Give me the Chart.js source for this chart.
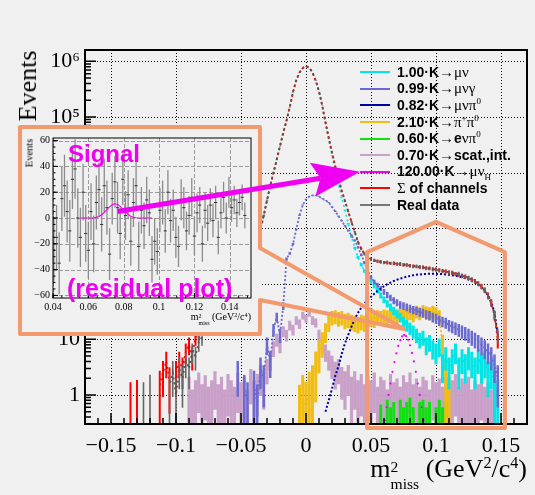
<!DOCTYPE html>
<html lang="en">
<head>
<meta charset="UTF-8">
<title>m2miss fit</title>
<script src="https://cdn.jsdelivr.net/npm/chart.js"></script>
<style>
  html, body { margin: 0; padding: 0; background: #f0f0f0; }
  #wrap { position: relative; width: 535px; height: 495px; overflow: hidden; background: #f0f0f0; font-family: 'Liberation Serif', serif; color: #000; }
  canvas, .abs { position: absolute; }
  #main { left: 0; top: 0; }
  #inset { left: 20px; top: 127px; background: #f0f0f0; }
  #over { left: 0; top: 0; pointer-events: none; }
  .rot { transform: translate(-50%, -50%) rotate(-90deg); white-space: nowrap; }
  #ytitle { left: 28px; top: 86px; font-size: 26px; }
  #iytitle { left: 29px; top: 153px; font-size: 10.5px; }
  #xtitle { right: 8px; top: 454px; font-size: 26px; line-height: 30px; white-space: nowrap; }
  #ixtitle { right: 284px; top: 311px; font-size: 10px; line-height: 12px; white-space: nowrap; }
  .stack { display: inline-flex; flex-direction: column; font-size: 0.6em; line-height: 1.1; vertical-align: 0.3em; }
  sup.s { font-size: 0.62em; vertical-align: 0.55em; line-height: 0; }
  #legend { left: 360px; top: 64px; font: bold 14px 'Liberation Sans', Arial, sans-serif; }
  #legend .row { display: flex; align-items: center; height: 16.6px; white-space: nowrap; }
  #legend i { display: block; width: 30px; height: 2px; margin-right: 7px; }
  #legend .g { font: 15px 'Liberation Serif', serif; }
  #legend sup, #legend sub { font-size: 9px; line-height: 0; }
  .magtxt { color: #f000f0; font: bold 24px 'Liberation Sans', Arial, sans-serif; line-height: 24px; white-space: nowrap; }
  #sigtxt { left: 68px; top: 142px; }
  #restxt { left: 67px; top: 276px; font-size: 25px; line-height: 25px; }
</style>
</head>
<body>
<div id="wrap">
  <canvas id="main" width="535" height="495"></canvas>
  <div id="ytitle" class="abs rot">Events</div>
  <div id="xtitle" class="abs">m<span class="stack"><span>2</span><span>miss</span></span> (GeV<sup class="s">2</sup>/c<sup class="s">4</sup>)</div>
  <div id="legend" class="abs"></div>
  <canvas id="inset" width="240" height="207"></canvas>
  <div id="iytitle" class="abs rot">Events</div>
  <div id="ixtitle" class="abs">m<span class="stack"><span>2</span><span>miss</span></span> (GeV<sup class="s">2</sup>/c<sup class="s">4</sup>)</div>
  <canvas id="over" width="535" height="495"></canvas>
  <div id="sigtxt" class="abs magtxt">Signal</div>
  <div id="restxt" class="abs magtxt">(residual plot)</div>
</div>
<script>
// ---- data (bin width 0.0025 unless noted) ----
const BW = 0.0025;

// real data, first bin -0.1425
const dataX0 = -0.1425;
const dataY = [
  null, null, null, null, null, null, null, 0.8, null, 1.2,
  null, null, null, null, null, 1.5, 2.5, 1, 3, 2,
  4, 3, 6, 5, 9, 11, 18, 25, 35, 45,
  60, 75, 90, 110, 130, 150, 170, 190, 210, 240,
  270, 320, 550, 950, 1700, 3200, 5800, 10000, 17000, 30000,
  52000, 85000, 150000, 280000, 460000, 630000, 760000, 820000, 770000, 630000,
  450000, 290000, 160000, 80000, 42000, 23000, 13000, 7800, 4700, 3100,
  2000, 1300, 850, 560, 420, 340, 300, 275, 262, 255,
  248, 240, 246, 232, 238, 226, 230, 218, 222, 210,
  205, 208, 196, 198, 188, 190, 180, 182, 172, 168,
  170, 158, 160, 150, 152, 140, 135, 128, 118, 110,
  100, 88, 76, 60, 45, 28, 12
];

// sum of channels, first bin -0.135
const sumX0 = -0.135;
const sumY = [
  0.8, null, 0.9, null, null, null, null, null, null, 1.5,
  2.5, 4, 1.8, null, 2.5, 4, 3, 6, 8, 5,
  11, 13, 16, 22, 30, 38, 50, 62, 78, 92,
  112, 132, 150, 168, 188, 212, 238, 268, 330, 560,
  960, 1700, 3200, 5800, 10000, 17200, 30000, 52000, 86000, 150000,
  280000, 460000, 630000, 760000, 820000, 770000, 630000, 450000, 290000, 160000,
  80000, 42000, 23000, 13000, 7700, 4650, 3050, 1980, 1290, 860,
  570, 430, 345, 302, 278, 264, 254, 247, 242, 238,
  234, 230, 227, 224, 220, 216, 212, 208, 204, 200,
  196, 192, 188, 184, 180, 176, 171, 166, 161, 156,
  151, 146, 140, 134, 127, 119, 111, 101, 90, 77,
  62, 46, 27, 10
];

// K -> mu nu, first bin -0.04
const muNuX0 = -0.04;
const muNuY = [
  300, 520, 900, 1650, 3100, 5600, 9800, 16800, 29500, 51000,
  84000, 148000, 277000, 455000, 625000, 755000, 815000, 765000, 625000, 445000,
  285000, 156000, 77000, 39000, 20500, 11000, 6200, 3500, 2100, 1200,
  700, 440, 300, 220, 170, 135, 110, 92, 76, 62,
  52, 44, 38, 33, 29, 25, 21, 18, 16, 14,
  12, 10, 11, 8, 9, 7, 6, 7.5, 3.5, 5,
  3, 4.5, 6, 3, 4.5, 3.5, 5, 4, 3, 4.5,
  3.5, 4, 2.5, 3, 1.5, 0.9
];

// K -> mu nu gamma, first bin -0.0525
const muNuGX0 = -0.0525;
const muNuGY = [
  2.5, null, 1.2, 0.8, null, 1.5, 0.7, 3, 2, 8,
  4, 15, 25, 12, 40, 280, 350, 520, 950, 1700,
  2600, 3300, 3700, 3900, 3900, 3700, 3400, 3150, 2900, 2400,
  2000, 1650, 1350, 1100, 900, 740, 600, 450, 330, 240,
  170, 130, 108, 94, 82, 72, 63, 56, 50, 46,
  42, 40, 38, 36, 34, 33, 31, 30, 28, 27,
  25, 24, 22, 21, 20, 18, 17, 16, 15, 14,
  13, 12, 11, 10, 9, 8, 7, 6, 5, 3.5,
  2
];

// K -> mu nu pi0, first bin 0.015
const muNuPi0X0 = 0.015;
const muNuPi0Y = [
  0.5, 0.8, 1.3, 2.2, 3.3, 5.5, 8.5, 12, 17, 23,
  30, 37, 44, 51, 58, 66, 74, 82, 90, 98,
  105, 112, 118, 124, 129, 134, 138, 142, 145, 147,
  149, 150, 151, 151, 151, 150, 149, 147, 145, 142,
  139, 135, 130, 125, 119, 112, 105, 96, 86, 74,
  62, 48, 30, 12
];

// K -> pi+ pi0, first bin -0.005
const piPi0X0 = -0.005;
const piPi0Y = [
  0.5, 0.9, 0.6, 1.1, 1.6, 3.4, 6, 9, 14, 20,
  25, 26, 24, 25, 22, 23, 21, 20, 19, 21,
  20, 22, 24, 23, 26, 25, 27, 26, 28, 27,
  26, 29, 27, 28, 30, 28, 32, 30, 33, 31,
  30, 32, 30, 26, 8, 2, 0.8
];

// K -> e nu pi0, first bin 0.0575
const eNuPi0X0 = 0.0575;
const eNuPi0Y = [
  0.35, null, 0.45, 0.3, 0.4, null, 0.45, 0.3, 0.4, 0.5,
  0.3, null, 0.4, 0.45, 0.3, 0.4, null, 0.3, 0.45, 0.3,
  0.4
];

// scattering / interaction, first bin -0.09
const scatX0 = -0.09;
const scatY = [
  1.2, 0.6, 1.0, 1.5, 0.8, 1.3, 0.7, 1.0, 1.6, 0.8,
  1.2, 0.6, 1.4, 1.0, 0.7, 1.5, 0.9, 1.2, 0.6, 1.8,
  1.0, 1.4, 2.2, 1.6, 3, 4.5, 7, 10, 8, 14,
  12, 18, 15, 22, 19, 27, 24, 30, 22, 20,
  12, 8, 6, 4.5, 3.5, 2.6, 3, 2, 1.6, 2.2,
  1.2, 1.6, 1.0, 1.4, 0.8, 1.3, 1.0, 1.5, 0.7, 1.2,
  1.0, 0.6, 1.4, 0.9, 1.1, 0.7, 1.3, 0.9, 1.5, 0.8,
  1.1, 0.7, 1.2, 1.0, 0.6, 1.3, 0.9, 1.1, 0.7, 1.2,
  0.8, 1.0, 1.4, 0.7, 1.1, 0.9, 1.2, 0.6, 1.0, 0.8,
  1.3, 0.7, 0.9, 0.6, 0.8
];

// signal (120 x K -> mu nu_H), bin width 0.0015
const sigX0 = 0.0605, sigStep = 0.0015;
const sigY = [0.35, 0.6, 1.0, 1.6, 2.6, 3.9, 5.6, 7.6, 9.6, 11.3, 12.0, 11.4, 9.8, 7.8, 5.7, 4.0, 2.6, 1.6, 1.0, 0.6, 0.35];

// residual plot (inset), bin width 0.0015
const resX0 = 0.0405, resStep = 0.0015;
const resY = [
  -25, -15, -35, 15, 25, 5, -10, 30, 38, 0,
  -15, 20, -12, -25, 5, -20, 12, 22, -5, 25,
  8, -28, 15, 28, 8, -12, 30, 2, 18, -18,
  12, 25, -22, 6, -6, 14, 4, -32, -18, -26,
  6, 12, -10, 20, -2, 6, -15, -22, 14, 8,
  -10, 2, 16, -14, 4, 10, -20, 6, -4, 10,
  -2, 12, -15, 4, 16, 0, 20, 8, 14, 4,
  12, 16, 2
];
const resErr = [
  25, 25, 24, 25, 24, 24, 24, 23, 23, 23,
  23, 22, 22, 22, 22, 22, 21, 21, 21, 21,
  21, 20, 20, 20, 20, 20, 20, 19, 19, 19,
  19, 19, 19, 18, 18, 18, 18, 18, 18, 18,
  17, 17, 17, 17, 17, 16, 16, 16, 16, 16,
  15, 15, 15, 15, 15, 14, 14, 14, 14, 13,
  13, 13, 13, 12, 12, 12, 12, 11, 11, 11,
  10, 10, 10
];
const resSigX0 = 0.0555;
const resSigY = [0, 0, 0, 0, 0, 0, 0.5, 1.2, 2.5, 4.3, 6.5, 8.6, 10.3, 11, 10.5, 9, 6.9, 4.7, 2.8, 1.4, 0.6, 0.2, 0, 0, 0, 0, 0, 0];

// legend
const legendLabels = [
  '1.00·K<span class="g">→μν</span>',
  '0.99·K<span class="g">→μνγ</span>',
  '0.82·K<span class="g">→μνπ<sup>0</sup></span>',
  '2.10·K<span class="g">→π<sup>+</sup>π<sup>0</sup></span>',
  '0.60·K<span class="g">→</span>e<span class="g">νπ<sup>0</sup></span>',
  '0.70·K<span class="g">→</span>scat.,int.',
  '120.00·K<span class="g">→μν<sub>H</sub></span>',
  '<span class="g">Σ</span> of channels',
  'Real data'
];
const scaleFactors = [1.00, 0.99, 0.82, 2.10, 0.60, 0.70, 120.00];

// axes
const xMajor = [-0.15, -0.1, -0.05, 0, 0.05, 0.1, 0.15];
const yDecades = [1, 10, 100, 1000, 10000, 100000, 1000000];
const yLabels = ['1', '10', '10²', '10³', '10⁴', '10⁵', '10⁶'];
const insetXMajor = [0.04, 0.06, 0.08, 0.1, 0.12, 0.14];
const insetYMajor = [-60, -40, -20, 0, 20, 40, 60];

// ---- helpers ----
function bins(x0, step, vals) {
  return vals.map((v, i) => ({ x: +(x0 + i * step).toFixed(5), y: v }));
}
const xMinor = [], yMinor = [], ixMinor = [], iyMinor = [];
for (let i = -16; i <= 16; i++) xMinor.push(i / 100);
for (let d = 0.1; d < 1e6; d *= 10) for (let k = 2; k <= 9; k++) if (k * d > 0.33) yMinor.push(k * d);
for (let i = 8; i <= 30; i++) ixMinor.push(i * 0.005);
for (let i = -12; i <= 12; i++) iyMinor.push(i * 5);

// error bars, drawn under each dataset's line
const errBars = {
  id: 'errBars',
  beforeDatasetDraw(chart, args) {
    const ds = chart.data.datasets[args.index];
    if (!ds.errW && !ds.errs) return;
    const { ctx, chartArea: a, scales: { x, y } } = chart;
    ctx.save();
    ctx.beginPath(); ctx.rect(a.left, a.top, a.width, a.height); ctx.clip();
    ctx.strokeStyle = ds.errColor; ctx.lineWidth = ds.errWidth;
    ctx.beginPath();
    ds.data.forEach((p, i) => {
      if (p.y === null) return;
      const e = ds.errs ? ds.errs[i] : Math.sqrt(ds.errW * p.y);
      const px = x.getPixelForValue(p.x);
      const lo = p.y - e;
      const yb = (y.type === 'logarithmic' && lo <= 0) ? a.bottom : y.getPixelForValue(lo);
      ctx.moveTo(px, y.getPixelForValue(p.y + e)); ctx.lineTo(px, yb);
    });
    ctx.stroke(); ctx.restore();
  }
};

// ROOT-like grid, inward ticks and frame
const frame = {
  id: 'frame',
  beforeDatasetsDraw(chart, args, o) {
    const { ctx, chartArea: a, scales: { x, y } } = chart;
    ctx.save();
    ctx.strokeStyle = o.gridColor; ctx.lineWidth = 1; ctx.setLineDash(o.dash);
    ctx.beginPath();
    o.gridX.forEach(v => { const p = Math.round(x.getPixelForValue(v)) + 0.5; ctx.moveTo(p, a.top); ctx.lineTo(p, a.bottom); });
    o.gridY.forEach(v => { const p = Math.round(y.getPixelForValue(v)) + 0.5; ctx.moveTo(a.left, p); ctx.lineTo(a.right, p); });
    ctx.stroke(); ctx.restore();
  },
  afterDatasetsDraw(chart, args, o) {
    const { ctx, chartArea: a, scales: { x, y } } = chart;
    ctx.save();
    ctx.strokeStyle = '#000'; ctx.lineWidth = o.tickWidth;
    ctx.beginPath();
    const tx = (v, len) => { const p = x.getPixelForValue(v); ctx.moveTo(p, a.bottom); ctx.lineTo(p, a.bottom - len); };
    const ty = (v, len) => { const p = y.getPixelForValue(v); ctx.moveTo(a.left, p); ctx.lineTo(a.left + len, p); };
    o.gridX.forEach(v => tx(v, o.majLen)); o.minorX.forEach(v => tx(v, o.minLen));
    o.gridY.forEach(v => ty(v, o.majLen)); o.minorY.forEach(v => ty(v, o.minLen));
    ctx.stroke();
    ctx.lineWidth = o.frameWidth;
    ctx.strokeRect(a.left, a.top, a.width, a.height);
    ctx.restore();
  }
};

// ---- main chart ----
const ser = (label, data, color, extra) => Object.assign({
  label, data, borderColor: color, backgroundColor: color, pointRadius: 0, borderWidth: 1.6,
  showLine: true, spanGaps: false, errColor: color, errWidth: 3
}, extra);

const mainDatasets = [
  ser('K→μν', bins(muNuX0, BW, muNuY), '#00e5e5', { order: 5, borderDash: [2, 3], errW: scaleFactors[0] }),
  ser('K→μνγ', bins(muNuGX0, BW, muNuGY), '#6a6ad0', { order: 4, borderDash: [2, 2], borderWidth: 1.8, errW: scaleFactors[1], errWidth: 2.5 }),
  ser('K→μνπ0', bins(muNuPi0X0, BW, muNuPi0Y), '#0000a0', { order: 3, borderDash: [2, 2], borderWidth: 2 }),
  ser('K→π+π0', bins(piPi0X0, BW, piPi0Y), '#efbd14', { order: 6, borderDash: [2, 2], errW: scaleFactors[3] }),
  ser('K→eνπ0', bins(eNuPi0X0, BW, eNuPi0Y), '#10e010', { order: 7, showLine: false, errW: scaleFactors[4] / 2 }),
  ser('scat.,int.', bins(scatX0, BW, scatY), '#c8a0c8', { order: 8, showLine: false, errW: scaleFactors[5], errWidth: 3.2 }),
  ser('signal', bins(sigX0, sigStep, sigY), '#f000f0', { order: 2, showLine: false, pointRadius: 1.1, pointBorderWidth: 0 }),
  ser('sum', bins(sumX0, BW, sumY), '#ff0000', { order: 1, borderDash: [2, 3], borderWidth: 1.8, errW: 1, errWidth: 2 }),
  ser('data', bins(dataX0, BW, dataY), '#555555', { order: 0, borderDash: [2, 3], borderDashOffset: 2.5, borderWidth: 1.8, errW: 1, errWidth: 1.6, errColor: '#666666' })
];

const mainChart = new Chart(document.getElementById('main'), {
  type: 'line',
  data: { datasets: mainDatasets },
  options: {
    responsive: false, animation: false, parsing: true,
    layout: { padding: { top: 50, right: 8, left: 0, bottom: 0 } },
    plugins: {
      legend: { display: false }, tooltip: { enabled: false },
      frame: { gridX: xMajor, gridY: yDecades, minorX: xMinor, minorY: yMinor, dash: [1, 2], gridColor: '#000',
               majLen: 11, minLen: 6, tickWidth: 1.5, frameWidth: 2 }
    },
    scales: {
      x: {
        type: 'linear', min: -0.17, max: 0.17,
        afterBuildTicks: s => { s.ticks = xMajor.map(v => ({ value: v })); },
        afterFit: s => { s.height = 71; },
        grid: { display: false, drawTicks: false }, border: { display: false },
        ticks: {
          autoSkip: false, maxRotation: 0, padding: 9, color: '#000',
          font: { family: 'Liberation Serif', size: 22 },
          callback: v => v === 0 ? '0' : (v < 0 ? '−' : '') + String(Math.abs(v))
        }
      },
      y: {
        type: 'logarithmic', min: 0.33, max: 1.6e6,
        afterBuildTicks: s => { s.ticks = yDecades.map(v => ({ value: v })); },
        afterFit: s => { s.width = 85; },
        grid: { display: false, drawTicks: false }, border: { display: false },
        ticks: {
          autoSkip: false, padding: 5, color: '#000',
          font: { family: 'Liberation Serif', size: 22 },
          callback: v => yLabels[yDecades.indexOf(v)] || ''
        }
      }
    }
  },
  plugins: [errBars, frame]
});

// legend built from the series
const legendColors = mainDatasets.map(d => d.borderColor);
legendColors[8] = '#777777';
document.getElementById('legend').innerHTML = legendLabels.map((t, i) =>
  `<div class="row"><i style="background:${legendColors[i]}"></i><span>${t}</span></div>`).join('');

// ---- inset residual chart ----
const insetChart = new Chart(document.getElementById('inset'), {
  type: 'line',
  data: {
    datasets: [
      { label: 'signal', data: bins(resSigX0, resStep, resSigY), borderColor: '#f000f0', borderWidth: 1.1, pointRadius: 0, order: 0 },
      { label: 'residual', data: bins(resX0, resStep, resY), showLine: false, pointStyle: 'line', pointRadius: 1.6,
        pointBorderColor: '#333', pointBorderWidth: 1, errs: resErr, errColor: '#8c8c8c', errWidth: 1.3, order: 1 }
    ]
  },
  options: {
    responsive: false, animation: false,
    layout: { padding: { top: 11, right: 9, left: 0, bottom: 0 } },
    plugins: {
      legend: { display: false }, tooltip: { enabled: false },
      frame: { gridX: insetXMajor, gridY: insetYMajor, minorX: ixMinor, minorY: iyMinor, dash: [4, 2], gridColor: '#9a9a9a',
               majLen: 5, minLen: 2.5, tickWidth: 1, frameWidth: 1 }
    },
    scales: {
      x: {
        type: 'linear', min: 0.04, max: 0.152,
        afterBuildTicks: s => { s.ticks = insetXMajor.map(v => ({ value: v })); },
        afterFit: s => { s.height = 36; },
        grid: { display: false, drawTicks: false }, border: { display: false },
        ticks: { autoSkip: false, maxRotation: 0, padding: 3, color: '#000', font: { family: 'Liberation Serif', size: 10 },
                 callback: v => String(v) }
      },
      y: {
        type: 'linear', min: -62, max: 62,
        afterBuildTicks: s => { s.ticks = insetYMajor.map(v => ({ value: v })); },
        afterFit: s => { s.width = 33; },
        grid: { display: false, drawTicks: false }, border: { display: false },
        ticks: { autoSkip: false, padding: 3, color: '#000', font: { family: 'Liberation Serif', size: 10 },
                 callback: v => (v < 0 ? '−' : '') + Math.abs(v) }
      }
    }
  },
  plugins: [errBars, frame]
});

// ---- call-outs: bubble, zoom box, arrow ----
function drawOverlay() {
  const g = document.getElementById('over').getContext('2d');
  const xs = mainChart.scales.x, ys = mainChart.scales.y, area = mainChart.chartArea;
  const orange = '#f29a6e';
  const peak = sigY.indexOf(Math.max(...sigY));
  const tipX = xs.getPixelForValue(sigX0 + peak * sigStep), tipY = ys.getPixelForValue(sigY[peak]) - 6;
  g.strokeStyle = orange; g.lineWidth = 4; g.lineJoin = 'round'; g.lineCap = 'round';
  g.beginPath();
  g.moveTo(20, 127); g.lineTo(260, 127); g.lineTo(260, 248); g.lineTo(tipX, tipY);
  g.lineTo(260, 300); g.lineTo(260, 334); g.lineTo(20, 334); g.closePath(); g.stroke();

  const hx0 = xs.getPixelForValue(0.047), hx1 = xs.getPixelForValue(0.153), hxm = xs.getPixelForValue(0.1);
  const hy = ys.getPixelForValue(370), hTop = ys.getPixelForValue(1300), hb = area.bottom + 4;
  g.beginPath();
  g.moveTo(hx0, hb); g.lineTo(hx0, hy); g.lineTo(hxm, hTop); g.lineTo(hx1, hy); g.lineTo(hx1, hb); g.closePath(); g.stroke();

  // arrow from the inset signal bump to the legend entry
  const ix = insetChart.scales.x, iy = insetChart.scales.y;
  const sx = 20 + ix.getPixelForValue(0.0765), sy = 127 + iy.getPixelForValue(5);
  const wrap = document.getElementById('wrap').getBoundingClientRect();
  const mark = document.querySelectorAll('#legend i')[6].getBoundingClientRect();
  const ex = mark.left - wrap.left, ey = mark.top - wrap.top + mark.height / 2;
  const len = Math.hypot(ex - sx, ey - sy), ux = (ex - sx) / len, uy = (ey - sy) / len;
  const L = 48, W = 17, nx = -uy, ny = ux;
  const bx = ex - ux * L, by = ey - uy * L, kx = ex - ux * (L - 8), ky = ey - uy * (L - 8);
  g.strokeStyle = '#f000f0'; g.fillStyle = '#f000f0'; g.lineWidth = 5; g.lineCap = 'butt';
  g.beginPath(); g.moveTo(sx, sy); g.lineTo(kx, ky); g.stroke();
  g.beginPath();
  g.moveTo(ex, ey); g.lineTo(bx + nx * W, by + ny * W); g.lineTo(kx, ky); g.lineTo(bx - nx * W, by - ny * W);
  g.closePath(); g.fill();
}
drawOverlay();
</script>
</body>
</html>
